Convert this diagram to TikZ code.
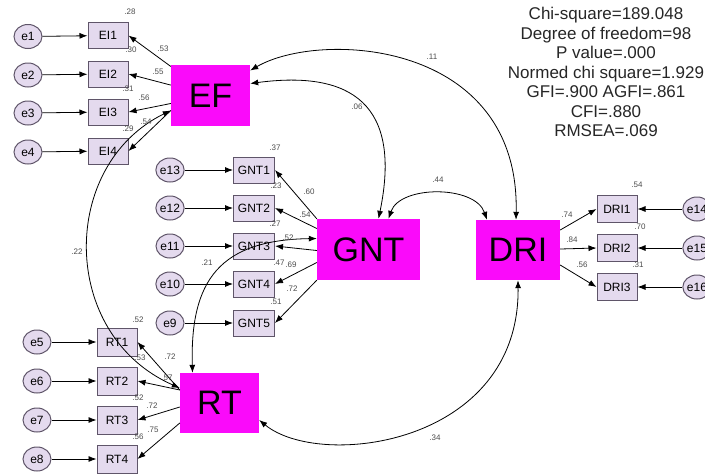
\documentclass[tikz,border=0pt]{standalone}
\usepackage{fontspec}
\setmainfont{Liberation Sans}
\usetikzlibrary{arrows.meta,calc,shapes.geometric}
\definecolor{boxfill}{RGB}{228,218,238}
\definecolor{boxline}{RGB}{95,85,105}
\definecolor{latfill}{RGB}{250,10,250}
\begin{document}
\begin{tikzpicture}[x=1pt,y=-1pt,
  errc/.style={ellipse,draw=boxline,fill=boxfill,line width=1pt,minimum width=28pt,minimum height=24pt,inner sep=0pt,font=\fontsize{12}{12}\selectfont},
  ind/.style={rectangle,draw=boxline,fill=boxfill,line width=1pt,minimum width=40pt,minimum height=26pt,inner sep=0pt,font=\fontsize{12}{12}\selectfont},
  latent/.style={rectangle,fill=latfill,minimum width=79pt,minimum height=61pt,inner sep=0pt,font=\fontsize{34}{34}\selectfont},
  arr/.style={-{Latex[length=8pt,width=6pt]},line width=0.8pt},
  darr/.style={{Latex[length=8pt,width=6pt]}-{Latex[length=8pt,width=6pt]},line width=0.8pt},
  num/.style={font=\fontsize{8}{8}\selectfont,text=black!70,inner sep=0pt}]
\useasboundingbox (0,0) rectangle (705,475);
% latent variables
\node[latent] (EF) at (210.5,95.5) {EF};
\node[latent,minimum width=103pt] (GNT) at (368.5,249.5) {GNT};
\node[latent,minimum width=84pt,minimum height=60pt] (DRI) at (518,250) {DRI};
\node[latent,minimum height=60pt] (RT) at (219.5,403) {RT};
% EF block
\foreach \i/\y in {1/36.5,2/75,3/113,4/152}{
  \node[errc] (e\i) at (28,\y) {e\i};
}
\foreach \i/\y in {1/35.5,2/74,3/112,4/151}{
  \node[ind] (EI\i) at (108,\y) {EI\i};
}
% GNT block
\node[errc] (e13) at (170,170) {e13};
\node[errc] (e12) at (170,208) {e12};
\node[errc] (e11) at (170,246) {e11};
\node[errc] (e10) at (170,284) {e10};
\node[errc] (e9) at (170,323) {e9};
\foreach \i/\y in {1/170,2/208,3/246,4/284,5/323}{
  \node[ind,minimum width=41pt] (GNT\i) at (254,\y) {GNT\i};
}
% RT block
\foreach \i/\y in {5/342,6/381,7/420,8/459}{
  \node[errc] (e\i) at (37,\y) {e\i};
}
\foreach \i/\y in {1/342,2/381,3/420,4/459}{
  \node[ind,minimum height=28pt] (RT\i) at (117,\y) {RT\i};
}
% DRI block
\foreach \i/\y in {1/209,2/248,3/287}{
  \node[ind,minimum height=27pt] (DRI\i) at (617,\y) {DRI\i};
}
\node[errc] (e14) at (697,209) {e14};
\node[errc] (e15) at (697,248) {e15};
\node[errc] (e16) at (697,287) {e16};
% error arrows
\foreach \i in {1,2,3,4}{ \draw[arr] (e\i) -- (EI\i); }
\draw[arr] (e13) -- (GNT1);
\draw[arr] (e12) -- (GNT2);
\draw[arr] (e11) -- (GNT3);
\draw[arr] (e10) -- (GNT4);
\draw[arr] (e9) -- (GNT5);
\draw[arr] (e5) -- (RT1);
\draw[arr] (e6) -- (RT2);
\draw[arr] (e7) -- (RT3);
\draw[arr] (e8) -- (RT4);
\draw[arr] (e14) -- (DRI1);
\draw[arr] (e15) -- (DRI2);
\draw[arr] (e16) -- (DRI3);
% loadings
\draw[arr] (EF) -- (EI1.east);
\draw[arr] (EF) -- (EI2.east);
\draw[arr] (EF) -- (EI3.east);
\draw[arr] ([yshift=-15pt]EF.west) -- (EI4.east);
\draw[arr] (GNT.north west) -- (GNT1.east);
\draw[arr] ([yshift=21pt]GNT.west) -- (GNT2.east);
\draw[arr] ([yshift=-1pt]GNT.west) -- (GNT3.east);
\draw[arr] ([yshift=-13pt]GNT.west) -- (GNT4.east);
\draw[arr] (GNT.south west) -- (GNT5.east);
\draw[arr] ([yshift=13pt]RT.west) -- (RT1.east);
\draw[arr] ([yshift=13pt]RT.west) -- (RT2.east);
\draw[arr] ([yshift=-4pt]RT.west) -- (RT3.east);
\draw[arr] ([yshift=-20pt]RT.west) -- (RT4.east);
\draw[arr] ([yshift=20pt]DRI.east) -- (DRI1.west);
\draw[arr] ([yshift=1pt]DRI.east) -- (DRI2.west);
\draw[arr] ([yshift=-15pt]DRI.east) -- (DRI3.west);
% covariances
\draw[darr] ([yshift=-15pt]EF.west) .. controls (59,165) and (59,335) .. ([yshift=15pt]RT.west);
\draw[darr] ([yshift=11pt]GNT.west) .. controls (220,240) and (190,280) .. ([xshift=-27pt]RT.north);
\draw[darr] ([yshift=12pt]EF.east) .. controls (352,70) and (402,105) .. ([xshift=10pt]GNT.north);
\draw[darr] ([yshift=25pt]EF.east) .. controls (320,30) and (520,40) .. ([xshift=-2pt]DRI.north);
\draw[darr] ([xshift=20pt]GNT.north) .. controls (400,185) and (475,185) .. ([xshift=-31pt]DRI.north);
\draw[darr] ([yshift=-17pt]RT.east) .. controls (320,470) and (520,445) .. (DRI.south);
% numbers EF
\node[num] at (130,12) {.28};
\node[num] at (131,50) {.30};
\node[num] at (128,89) {.31};
\node[num] at (128,129) {.29};
\node[num] at (163,49) {.53};
\node[num] at (158,72) {.55};
\node[num] at (144,98) {.56};
\node[num] at (146,122) {.54};
% numbers GNT
\node[num] at (275,148) {.37};
\node[num] at (276,186) {.23};
\node[num] at (275,224) {.27};
\node[num] at (279,263) {.47};
\node[num] at (276,302) {.51};
\node[num] at (309,192) {.60};
\node[num] at (305,215) {.54};
\node[num] at (288,238) {.52};
\node[num] at (291,265) {.69};
\node[num] at (292,289) {.72};
% numbers RT
\node[num] at (138,320) {.52};
\node[num] at (140,358) {.53};
\node[num] at (138,398) {.52};
\node[num] at (138,437) {.56};
\node[num] at (170,357) {.72};
\node[num] at (167,378) {.57};
\node[num] at (152,406) {.72};
\node[num] at (153,430) {.75};
% numbers DRI
\node[num] at (567,215) {.74};
\node[num] at (572,240) {.84};
\node[num] at (582,265) {.56};
\node[num] at (637,185) {.54};
\node[num] at (640,227) {.70};
\node[num] at (638,265) {.31};
% covariance numbers
\node[num] at (432,57) {.11};
\node[num] at (357,107) {.06};
\node[num] at (438,180) {.44};
\node[num] at (77,252) {.22};
\node[num] at (207,263) {.21};
\node[num] at (435,438) {.34};
% fit statistics
\node[align=center,font=\fontsize{17}{19.5}\selectfont,text=black!85] (fit) at (606,72) {Chi-square=189.048\\Degree of freedom=98\\P value=.000\\Normed chi square=1.929\\GFI=.900 AGFI=.861\\CFI=.880\\RMSEA=.069};
\end{tikzpicture}
\end{document}
